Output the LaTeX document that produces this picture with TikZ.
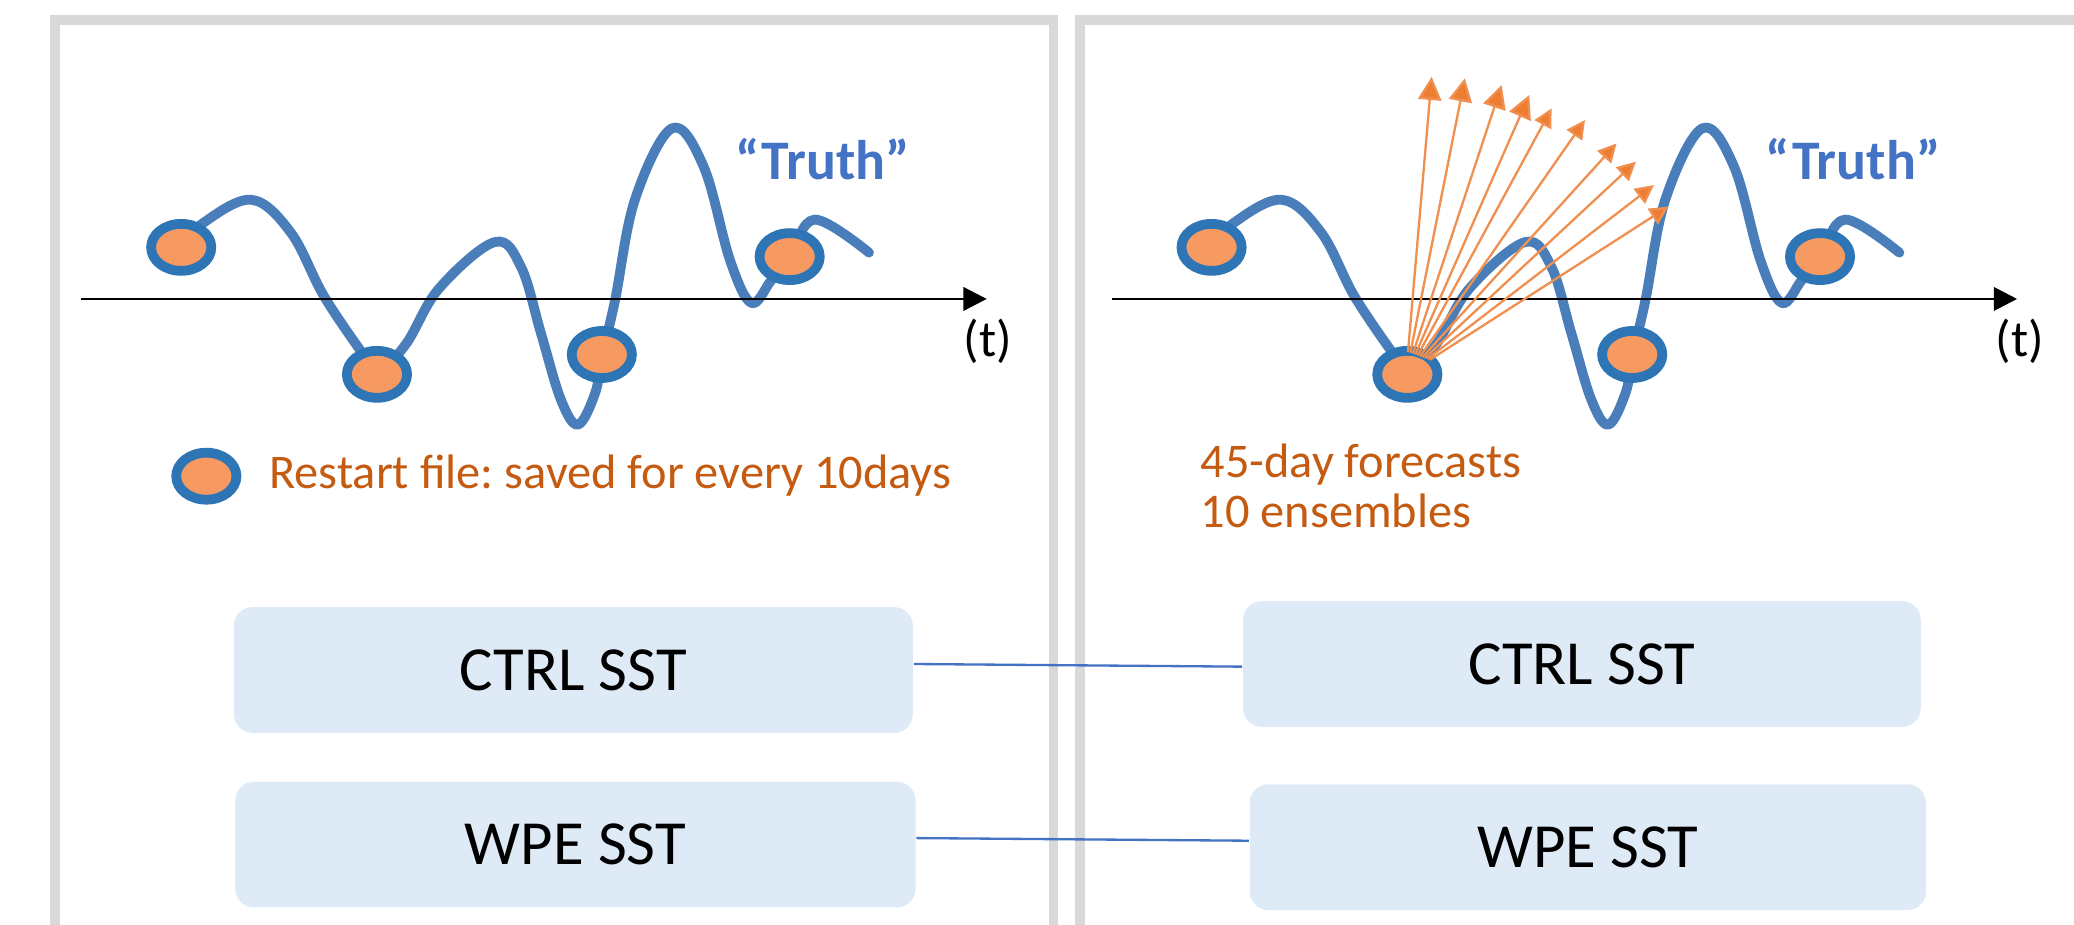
\documentclass[tikz,border=0pt]{standalone}
\usepackage{fontspec}
\setmainfont{Carlito}
\usetikzlibrary{arrows.meta,shapes.geometric}
\definecolor{framegray}{HTML}{D9D9D9}
\definecolor{curveblue}{HTML}{4A7EBB}
\definecolor{ringblue}{HTML}{2E75B6}
\definecolor{dotorange}{HTML}{F79A62}
\definecolor{txtorange}{HTML}{C55A11}
\definecolor{arrorange}{HTML}{ED7D31}
\definecolor{truthblue}{HTML}{4472C4}
\definecolor{boxblue}{HTML}{DEEBF7}
\definecolor{linkblue}{HTML}{4472C4}
\frenchspacing
\begin{document}
\begin{tikzpicture}[x=0.01cm,y=-0.01cm,
  panelframe/.style={draw=framegray,line width=2pt},
  truthcurve/.style={draw=curveblue,line width=2.1pt,line cap=round,line join=round},
  restartdot/.style={ellipse,draw=ringblue,line width=2.1pt,fill=dotorange,
     minimum width=0.455cm,minimum height=0.355cm,inner sep=0pt},
  timeaxis/.style={draw=black,line width=0.6pt,-{Triangle[length=5pt,width=5pt]}},
  truthlabel/.style={text=truthblue,font=\fontsize{12}{14}\selectfont\bfseries},
  tlabel/.style={font=\fontsize{11}{13}\selectfont},
  notetext/.style={text=txtorange,font=\fontsize{10.4}{12}\selectfont,anchor=base west,inner sep=0pt},
  sstbox/.style={fill=boxblue,rounded corners=4pt,minimum height=0.95cm,
     font=\fontsize{13.5}{16}\selectfont,inner sep=0pt},
  link/.style={draw=linkblue,line width=0.5pt},
  fan/.style={draw=arrorange!85,line width=0.5pt}
]
\useasboundingbox (0,0) rectangle (1568,699);
% panel frames
\draw[panelframe] (41.5,699) -- (41.5,15) -- (796.5,15) -- (796.5,699);
\draw[panelframe] (816.5,699) -- (816.5,15) -- (1575,15);

% truth curves
\foreach \dx in {0,779}{
\begin{scope}[shift={(\dx,0)}]
\draw[truthcurve] plot[smooth,tension=0.6] coordinates {
 (137,187) (153,169) (190,151) (220,176) (245,224) (276,270) (285,282)
 (307,260) (332,218) (374,183) (394,202) (409,252) (424,302) (437,321)
 (450,297) (455,270) (465,227) (480,151) (508,97) (532,126) (552,197)
 (568,229) (583,212) (597,194) (616,166) (657,191)};
\end{scope}
}

% axes
\coordinate (axL0) at (61,226);
\coordinate (axL1) at (746,226);
\coordinate (axR0) at (841,226);
\coordinate (axR1) at (1525,226);
\draw[timeaxis] (axL0) -- (axL1);
\draw[timeaxis] (axR0) -- (axR1);
\node[tlabel] (tL) at (747,258) {(t)};
\node[tlabel] (tR) at (1527,258) {(t)};

% restart dots
\node[restartdot] (aL1) at (137,187) {};
\node[restartdot] (aL2) at (285,283) {};
\node[restartdot] (aL3) at (455,268) {};
\node[restartdot] (aL4) at (597,194) {};
\node[restartdot] (aR1) at (916,187) {};
\node[restartdot] (aR2) at (1064,283) {};
\node[restartdot] (aR3) at (1234,268) {};
\node[restartdot] (aR4) at (1376,194) {};

% truth labels
\node[truthlabel] (truthL) at (622,120) {“Truth”};
\node[truthlabel] (truthR) at (1401,120) {“Truth”};

% legend
\node[restartdot] (legdot) at (156,360) {};
\node[notetext] (legtext) at (203,369) {Restart file: saved for every 10days};
\node[notetext] (fc1) at (907,361) {45-day forecasts};
\node[notetext] (fc2) at (907,399) {10 ensembles};

% forecast fan
\foreach \i/\sx/\sy/\ex/\ey/\hs in {
 1/1064.5/266/1082.4/58/5, 2/1066.3/266.7/1107.5/59.2/5,
 3/1068.2/267.3/1135.3/64.3/5, 4/1070/268/1156.2/71.8/5,
 5/1071.8/268.7/1173.1/81.9/4, 6/1073.7/269.3/1198.3/90.7/4,
 7/1075.5/270/1222.2/108.4/4, 8/1077.3/270.7/1236.8/122.2/4,
 9/1079.2/271.3/1250.4/139.9/4, 10/1081/272/1261.3/156.2/4}{
 \coordinate (fs\i) at (\sx,\sy);
 \coordinate (fe\i) at (\ex,\ey);
 \draw[fan,-{Triangle[length=\hs pt,width=\hs pt,fill=arrorange]}] (fs\i) -- (fe\i);
}

% SST boxes
\node[sstbox,minimum width=5.13cm] (ctrlL) at (433.5,506.5) {CTRL SST};
\node[sstbox,minimum width=5.12cm] (ctrlR) at (1196,502) {CTRL SST};
\node[sstbox,minimum width=5.14cm] (wpeL) at (435,638.5) {WPE SST};
\node[sstbox,minimum width=5.11cm] (wpeR) at (1200.5,640.5) {WPE SST};
\draw[link] ([yshift=0.045cm]ctrlL.east) -- ([yshift=-0.02cm]ctrlR.west);
\draw[link] ([yshift=0.049cm]wpeL.east) -- ([yshift=0.049cm]wpeR.west);
\end{tikzpicture}
\end{document}
